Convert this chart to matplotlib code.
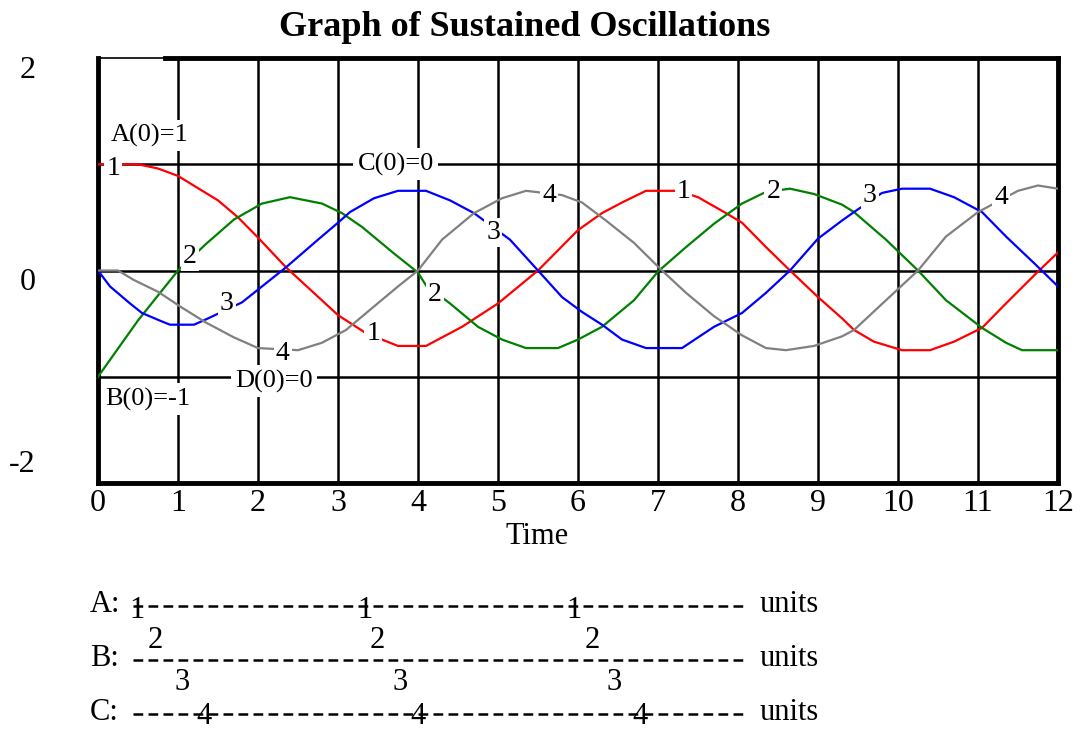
import matplotlib
matplotlib.use("Agg")
import matplotlib.pyplot as plt
from matplotlib.lines import Line2D

plt.rcParams['font.family'] = ['Liberation Serif', 'DejaVu Serif']

# --- data ---
t_a = [0, 0.5, 0.75, 1.0, 1.5, 1.75, 2.0, 2.35, 3.0, 3.35, 3.65, 3.75, 4.1, 4.55, 5.0, 5.5,
       6.0, 6.3, 6.55, 6.85, 7.25, 7.5, 7.85, 8.05, 8.35, 8.65, 9.0, 9.3, 9.45, 9.7,
       10.05, 10.4, 10.7, 11.05, 11.35, 11.75, 12.0]
a = [1.0, 1.0, 0.96, 0.89, 0.66, 0.50, 0.31, 0.03, -0.42, -0.59, -0.68, -0.71, -0.71, -0.53,
     -0.31, 0.0, 0.38, 0.54, 0.64, 0.75, 0.75, 0.69, 0.54, 0.45, 0.22, 0.0, -0.25, -0.45,
     -0.56, -0.67, -0.75, -0.75, -0.67, -0.54, -0.31, -0.01, 0.17]

t_b = [0, 0.5, 1.0, 1.35, 1.7, 2.05, 2.4, 2.8, 3.05, 3.3, 3.7, 4.0, 4.1, 4.4, 4.75, 5.05,
       5.35, 5.75, 6.0, 6.3, 6.7, 7.0, 7.35, 7.7, 8.05, 8.35, 8.65, 8.95, 9.3, 9.45, 9.85,
       10.25, 10.6, 11.05, 11.35, 11.55, 12.0]
b = [-1.0, -0.47, 0.0, 0.25, 0.48, 0.63, 0.69, 0.63, 0.54, 0.41, 0.16, -0.02, -0.14,
     -0.31, -0.53, -0.65, -0.73, -0.73, -0.65, -0.53, -0.28, -0.01, 0.22, 0.44, 0.63,
     0.74, 0.77, 0.72, 0.62, 0.55, 0.29, 0.0, -0.28, -0.54, -0.68, -0.75, -0.75]

t_c = [0, 0.15, 0.4, 0.55, 0.8, 0.9, 1.2, 1.35, 1.8, 2.05, 2.35, 2.75, 3.0, 3.15, 3.45,
       3.75, 4.1, 4.4, 4.7, 5.15, 5.5, 5.8, 6.05, 6.3, 6.55, 6.85, 7.3, 7.7, 8.05, 8.35,
       8.65, 9.0, 9.3, 9.45, 9.8, 10.05, 10.4, 10.7, 11.05, 11.35, 11.7, 12.0]
c = [0.0, -0.15, -0.31, -0.40, -0.48, -0.51, -0.51, -0.46, -0.30, -0.15, 0.03, 0.29, 0.45,
     0.55, 0.68, 0.75, 0.75, 0.66, 0.54, 0.29, 0.0, -0.25, -0.39, -0.51, -0.65, -0.73,
     -0.73, -0.53, -0.40, -0.21, 0.0, 0.30, 0.47, 0.55, 0.73, 0.77, 0.77, 0.69, 0.55,
     0.32, 0.07, -0.15]

t_d = [0, 0.25, 0.45, 0.75, 1.05, 1.35, 1.7, 2.0, 2.5, 2.8, 3.1, 3.4, 3.75, 4.0, 4.3, 4.7,
       5.05, 5.35, 5.8, 6.05, 6.35, 6.7, 7.05, 7.35, 7.7, 8.05, 8.35, 8.6, 8.95, 9.3, 9.45,
       9.85, 10.25, 10.6, 11.0, 11.5, 11.75, 12.0]
d = [0.0, 0.0, -0.09, -0.20, -0.35, -0.49, -0.63, -0.73, -0.75, -0.68, -0.56, -0.37, -0.15,
     0.0, 0.29, 0.54, 0.68, 0.75, 0.71, 0.64, 0.47, 0.26, 0.0, -0.21, -0.43, -0.61, -0.73,
     -0.75, -0.71, -0.62, -0.56, -0.28, 0.0, 0.32, 0.55, 0.75, 0.80, 0.77]

series = [("1", t_a, a, "#ff0000"), ("2", t_b, b, "#008000"),
          ("3", t_c, c, "#0000ff"), ("4", t_d, d, "#808080")]

# where the curve numbers sit (time, value)
marks = {
    "1": [(0.19, 0.96), (3.44, -0.59), (7.32, 0.74)],
    "2": [(1.15, 0.13), (4.21, -0.23), (8.44, 0.74)],
    "3": [(1.61, -0.31), (4.94, 0.36), (9.65, 0.71)],
    "4": [(2.31, -0.78), (5.64, 0.71), (11.29, 0.69)],
}

init_labels = [("A(0)=1", 0.65, 1.27), ("C(0)=0", 3.72, 1.0),
               ("B(0)=-1", 0.62, -1.21), ("D(0)=0", 2.2, -1.04)]

xticks = list(range(13))
ytick_text = ["2", "0", "-2"]

# --- figure ---
fig = plt.figure(figsize=(10.86, 7.29), dpi=100)
ax = fig.add_axes([98 / 1086, 1 - 483 / 729, 960 / 1086, 425 / 729])
ax.set_xlim(0, 12)
ax.set_ylim(-2, 2)

for x in range(1, 12):
    ax.axvline(x, color="black", lw=1.8, zorder=1)
for y in (-1, 0, 1):
    ax.axhline(y, color="black", lw=1.8, zorder=1)

for name, tt, vv, col in series:
    ax.plot(tt, vv, color=col, lw=1.6, zorder=3)
    for (tx, ty) in marks[name]:
        ax.text(tx, ty, name, fontsize=20, ha="center", va="center", zorder=5,
                bbox=dict(facecolor="white", edgecolor="none", pad=1.5))

for txt, tx, ty in init_labels:
    ax.text(tx, ty, txt, fontsize=19, ha="center", va="center", zorder=4,
            bbox=dict(facecolor="white", edgecolor="none", pad=3))

for side in ("left", "right", "bottom"):
    ax.spines[side].set_linewidth(3.5)
ax.spines["top"].set_visible(False)
ax.plot([0, 0.84], [2, 2], color="black", lw=1.2, clip_on=False, zorder=6)
ax.plot([0.84, 12], [2, 2], color="black", lw=3.5, clip_on=False, zorder=6,
        solid_capstyle="projecting")

ax.set_xticks(xticks)
ax.set_xticklabels([str(x) for x in xticks], fontsize=23)
ax.tick_params(axis="x", length=0, pad=4)
ax.set_yticks([])

fig.text(537 / 1086, 1 - 536 / 729, "Time", fontsize=22, ha="center", va="center")

for txt, py in zip(ytick_text, [71, 283, 464]):
    fig.text(36 / 1086, 1 - py / 729, txt, fontsize=23, ha="right", va="center")

fig.text(525 / 1086, 1 - 28 / 729, "Graph of Sustained Oscillations", fontsize=26,
         fontweight="bold", ha="center", va="center")

# --- bottom scale strip ---
rows = [("A:", 604), ("B:", 658), ("C:", 712)]
for lab, py in rows:
    yf = 1 - py / 729
    fig.text(90 / 1086, yf, lab, fontsize=22, ha="left", va="center")
    fig.add_artist(Line2D([133 / 1086, 748 / 1086], [yf - 2 / 729, yf - 2 / 729],
                          color="black", lw=1.8, linestyle=(0, (7 / 1.8, 3.8 / 1.8))))
    fig.text(760 / 1086, yf, "units", fontsize=22, ha="left", va="center")

strip_marks = [("1", [137, 365, 574], 610), ("2", [155, 377, 592], 640),
               ("3", [182, 400, 614], 683), ("4", [204, 418, 640], 716)]
for name, xs, py in strip_marks:
    for px in xs:
        fig.text(px / 1086, 1 - py / 729, name, fontsize=22, ha="center", va="center")

fig.savefig("out.png", dpi=100)
